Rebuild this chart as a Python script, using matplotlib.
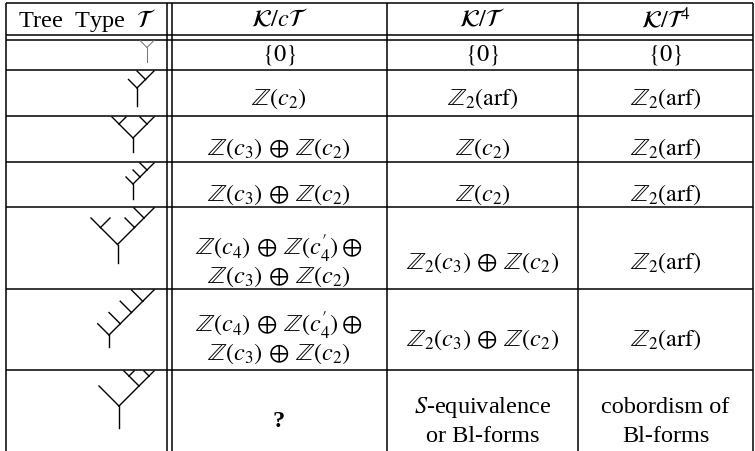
import matplotlib.pyplot as plt

plt.rcParams['font.family'] = ['Liberation Serif', 'DejaVu Serif']
plt.rcParams['mathtext.fontset'] = 'stix'

# table content
headers = [r'Tree Type $\mathcal{T}$', r'$\mathcal{K}/c\mathcal{T}$',
           r'$\mathcal{K}/\mathcal{T}$', r'$\mathcal{K}/\mathcal{T}^4$']

Z2 = r'$\mathbb{Z}(c_2)$'
Z32 = r'$\mathbb{Z}(c_3)\,\oplus\,\mathbb{Z}(c_2)$'
Z432 = r"$\mathbb{Z}(c_4)\,\oplus\,\mathbb{Z}(c^{\prime}_4)\oplus$" + '\n' + Z32
ARF = r'$\mathbb{Z}_2(\mathrm{arf})$'
Z2_32 = r'$\mathbb{Z}_2(c_3)\,\oplus\,\mathbb{Z}(c_2)$'

col_kct = [r'$\{0\}$', Z2, Z32, Z32, Z432, Z432, '?']
col_kt = [r'$\{0\}$', ARF, Z2, Z2, Z2_32, Z2_32, '$S$-equivalence\nor Bl-forms']
col_kt4 = [r'$\{0\}$', ARF, ARF, ARF, ARF, ARF, 'cobordism of\nBl-forms']

# tree types: nested pairs, L = leaf
L = None
trees = [
    (L, L),
    (L, (L, L)),
    ((L, L), (L, L)),
    (L, (L, (L, L))),
    ((L, L), (L, (L, L))),
    (L, (L, (L, (L, L)))),
    (L, ((L, L), (L, L))),
]
# branch length per depth and stem length (pixels)
tree_edges = [[7], [8.5, 8.5], [14, 7], [7, 7, 7], [17, 9.5, 10],
              [11.25] * 4, [20, 10, 5]]
tree_stems = [14, 18, 13.5, 15, 18.5, 12, 21.5]

# layout in pixels
W, H = 755, 452
hlines = [4, 36, 40.5, 71, 117, 163, 208, 290, 371]
row_tops = hlines[2:]
vlines = [5.5, 167.3, 171.5, 387, 578, 753]
col_x = [87, 279, 482.5, 665.5]
head_y = 20
text_y = [55, 99, 149, 195, 263, 340, 422]
line_gap = 28.5
fs = 17.5


def segments(node, x, y, edges, depth=0):
    if node is None:
        return []
    d = edges[depth]
    segs = []
    for child, sx in zip(node, (-1, 1)):
        cx, cy = x + sx * d, y - d
        segs.append(((x, cx), (y, cy)))
        segs += segments(child, cx, cy, edges, depth + 1)
    return segs


fig = plt.figure(figsize=(W / 100, H / 100), dpi=100)
ax = fig.add_axes([0, 0, 1, 1])
ax.set_xlim(0, W)
ax.set_ylim(H, 0)
ax.axis('off')

for y in hlines:
    ax.plot([vlines[0], vlines[-1]], [y, y], color='black', lw=1.1,
            solid_capstyle='butt')
for x in vlines:
    ax.plot([x, x], [hlines[0], H + 2], color='black', lw=1.1,
            solid_capstyle='butt')

for x, h in zip(col_x, headers):
    ax.text(x, head_y, h.replace('Tree Type', 'Tree  Type '), ha='center',
            va='center', fontsize=fs)

for i, cells in enumerate(zip(col_kct, col_kt, col_kt4)):
    for x, txt in zip(col_x[1:], cells):
        lines = txt.split('\n')
        n = len(lines)
        for k, line in enumerate(lines):
            y = text_y[i] + (k - (n - 1) / 2) * line_gap
            weight = 'bold' if line == '?' else 'normal'
            ax.text(x, y, line, ha='center', va='center', fontsize=fs,
                    fontweight=weight)

    # tree drawing, right-aligned in first column
    segs = segments(trees[i], 0, 0, tree_edges[i])
    xs = [v for s in segs for v in s[0]]
    ys = [v for s in segs for v in s[1]]
    dx = 154 - max(xs)
    dy = row_tops[i] + 1 - min(ys)
    col = '0.45' if i == 0 else 'black'
    lw = 0.7 if i == 0 else 1.0
    for sx, sy in segs:
        ax.plot([v + dx for v in sx], [v + dy for v in sy], color=col, lw=lw)
    ax.plot([dx, dx], [dy, dy + tree_stems[i]], color=col, lw=lw)

fig.savefig('out.png', dpi=100)
